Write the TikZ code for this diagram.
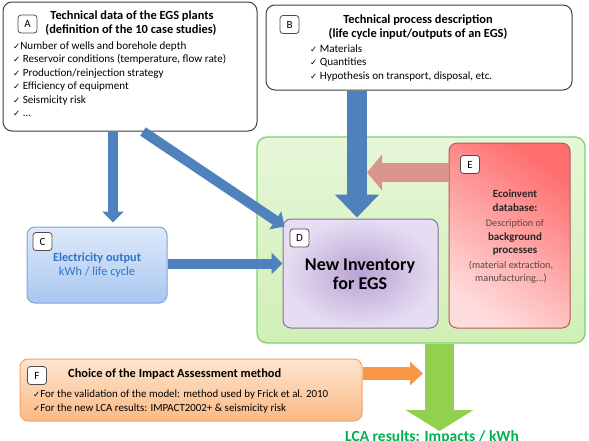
\documentclass[tikz,border=0pt]{standalone}
\usepackage{fontspec}
\setmainfont{Carlito}
\newfontfamily\symf{DejaVu Sans}
\usetikzlibrary{arrows.meta,calc}
\definecolor{arrblue}{HTML}{4F81BD}
\definecolor{arrred}{HTML}{DA9490}
\definecolor{arrorange}{HTML}{F79646}
\definecolor{arrgreen}{HTML}{92D050}
\definecolor{lcagreen}{HTML}{00B050}
\definecolor{gtop}{HTML}{E6F7D8}
\definecolor{gbot}{HTML}{D0EFB6}
\definecolor{gborder}{HTML}{7FCF6E}
\definecolor{ctop}{HTML}{DDE9FA}
\definecolor{cbot}{HTML}{A9C7F0}
\definecolor{cborder}{HTML}{7FA5D8}
\definecolor{ctext}{HTML}{2E75C6}
\definecolor{din}{HTML}{B9A2D4}
\definecolor{dout}{HTML}{E6DDF2}
\definecolor{dborder}{HTML}{85719E}
\definecolor{etop}{HTML}{FF6E6E}
\definecolor{ebot}{HTML}{FFDCDC}
\definecolor{eborder}{HTML}{B85A5A}
\definecolor{etext}{HTML}{5A4646}
\definecolor{ftop}{HTML}{FDE5D0}
\definecolor{fbot}{HTML}{FAB984}
\definecolor{fborder}{HTML}{F2A46A}
\newcommand{\ckmark}{{\symf\fontsize{8.5}{9}\selectfont ✓}}
\tikzset{
  whitebox/.style={rectangle, rounded corners=9pt, draw=black!75, line width=1pt, fill=white, inner sep=0pt},
  lbl/.style={rectangle, draw=black!70, fill=white, rounded corners=3pt, minimum width=19pt, minimum height=18pt, inner sep=0pt, font=\fontsize{11}{12}\selectfont, line width=0.8pt},
  ttl/.style={anchor=base, inner sep=0pt, font=\fontsize{12.4}{14}\selectfont\bfseries},
  bul/.style={anchor=base west, inner sep=0pt, font=\fontsize{11.1}{13}\selectfont},
  fbul/.style={anchor=base west, inner sep=0pt, font=\fontsize{10.9}{13}\selectfont},
  etxt/.style={anchor=base, inner sep=0pt, font=\fontsize{10.2}{12}\selectfont, text=etext},
  ebold/.style={anchor=base, inner sep=0pt, font=\fontsize{11}{12}\selectfont\bfseries, text=black!85},
  bluesmall/.style={draw=arrblue, line width=10pt, -{Triangle[width=21pt,length=11pt]}},
  bluebig/.style={draw=arrblue, line width=20pt, -{Triangle[width=43pt,length=23pt]}},
  redarrow/.style={draw=arrred, line width=19pt, -{Triangle[width=35pt,length=15pt]}},
  orangearrow/.style={draw=arrorange, line width=13pt, -{Triangle[width=23pt,length=13pt]}},
  greenarrow/.style={draw=arrgreen, line width=29pt, -{Triangle[width=67pt,length=21pt]}}
}
\begin{document}
\begin{tikzpicture}[x=1pt,y=-1pt]
\useasboundingbox (0,0) rectangle (589,440);

% green background
\node[rectangle, rounded corners=10pt, draw=gborder, line width=1.3pt, top color=gtop, bottom color=gbot, minimum width=328pt, minimum height=206pt, inner sep=0pt] (G) at (421,240) {};

% C box
\node[rectangle, rounded corners=8pt, draw=cborder, line width=1pt, top color=ctop, bottom color=cbot, minimum width=140pt, minimum height=76pt, inner sep=0pt] (C) at (97,265) {};
\node[lbl] (LC) at (42.5,241.5) {C};
\node[anchor=base, inner sep=0pt, font=\fontsize{12.3}{14}\selectfont\bfseries, text=ctext] (C1) at (97,261) {Electricity output};
\node[anchor=base, inner sep=0pt, font=\fontsize{12.3}{14}\selectfont, text=ctext] (C2) at (97,275.5) {kWh / life cycle};

% D box
\node[rectangle, rounded corners=8pt, draw=dborder, line width=1pt, shading=radial, inner color=din, outer color=dout, minimum width=155pt, minimum height=109pt, inner sep=0pt] (D) at (360.5,273.5) {};
\node[lbl] (LD) at (299.5,238) {D};
\node[anchor=base, inner sep=0pt, font=\fontsize{18}{20}\selectfont\bfseries] (D1) at (360,270) {New Inventory};
\node[anchor=base, inner sep=0pt, font=\fontsize{18}{20}\selectfont\bfseries] (D2) at (360,289.5) {for EGS};

% E box
\node[rectangle, rounded corners=8pt, draw=eborder, line width=1pt, top color=etop, bottom color=ebot, shading angle=-35, minimum width=121pt, minimum height=185pt, inner sep=0pt] (E) at (509.5,235.5) {};
\node[lbl] (LE) at (470,164.5) {E};
\node[ebold] (E1) at (515,197) {Ecoinvent};
\node[ebold] (E2) at (515,211.5) {database:};
\node[etxt] (E3) at (515,226.5) {Description of};
\node[ebold] (E4) at (515,240) {background};
\node[ebold] (E5) at (515,253) {processes};
\node[etxt] (E6) at (511,268) {(material extraction,};
\node[etxt] (E7) at (511,281) {manufacturing...)};

% F box
\node[rectangle, rounded corners=8pt, draw=fborder, line width=1pt, top color=ftop, bottom color=fbot, minimum width=342pt, minimum height=62pt, inner sep=0pt] (F) at (191,390) {};
\node[lbl] (LF) at (37,375.5) {F};
\node[anchor=base west, inner sep=0pt, font=\fontsize{12.4}{14}\selectfont\bfseries] (F0) at (68,377) {Choice of the Impact Assessment method};
\node[fbul] (F1) at (33,397) {\ckmark For the validation of the model: method used by Frick et al. 2010};
\node[fbul] (F2) at (33,411) {\ckmark For the new LCA results: IMPACT2002+ \& seismicity risk};

% A box
\node[whitebox, minimum width=254pt, minimum height=129pt] (A) at (130,66.5) {};
\node[lbl] (LA) at (27.5,24) {A};
\node[ttl] (A1) at (132,19) {Technical data of the EGS plants};
\node[ttl] (A2) at (131,33.5) {(definition of the 10 case studies)};
\node[bul] (A3) at (13,49) {\ckmark Number of wells and borehole depth};
\node[bul] (A4) at (13,62.5) {\ckmark\ Reservoir conditions (temperature, flow rate)};
\node[bul] (A5) at (13,76) {\ckmark\ Production/reinjection strategy};
\node[bul] (A6) at (13,89.5) {\ckmark\ Efficiency of equipment};
\node[bul] (A7) at (13,103) {\ckmark\ Seismicity risk};
\node[bul] (A8) at (13,116.5) {\ckmark\ ...};

% B box
\node[whitebox, minimum width=306pt, minimum height=85pt] (B) at (419,47.5) {};
\node[lbl] (LB) at (289.5,24.5) {B};
\node[ttl] (B1) at (418,23.5) {Technical process description};
\node[ttl] (B2) at (418,37.7) {(life cycle input/outputs of an EGS)};
\node[bul] (B3) at (310,52.5) {\ckmark\ Materials};
\node[bul] (B4) at (310,65.5) {\ckmark\ Quantities};
\node[bul] (B5) at (310,79) {\ckmark\ Hypothesis on transport, disposal, etc.};

% helper coordinates
\coordinate (xac) at (113,0);
\coordinate (xad) at (143,0);
\coordinate (ycd) at (0,263.5);
\coordinate (xbd) at (357,0);
\coordinate (yed) at (0,172.5);
\coordinate (redtip) at (367,172.5);
\coordinate (yfo) at (0,373.5);
\coordinate (otip) at (423,373.5);
\coordinate (xg) at (439.5,0);
\coordinate (gtip) at (439.5,431);

% arrows
\draw[redarrow] (E.west |- yed) -- (redtip);
\draw[bluesmall] (A.south -| xac) -- ([yshift=4pt]C.north -| xac);
\draw[bluesmall] (A.south -| xad) -- ($(D.north west)+(2,8)$);
\draw[bluesmall] (C.east |- ycd) -- (D.west |- ycd);
\draw[bluebig] (B.south -| xbd) -- ([yshift=1pt]D.north -| xbd);
\draw[orangearrow] (F.east |- yfo) -- (otip);
\draw[greenarrow] (G.south -| xg) -- (gtip);

\node[anchor=base, inner sep=0pt, font=\fontsize{15.5}{17}\selectfont\bfseries, text=lcagreen] (LCA) at (432,441.5) {LCA results: Impacts / kWh};
\end{tikzpicture}
\end{document}
